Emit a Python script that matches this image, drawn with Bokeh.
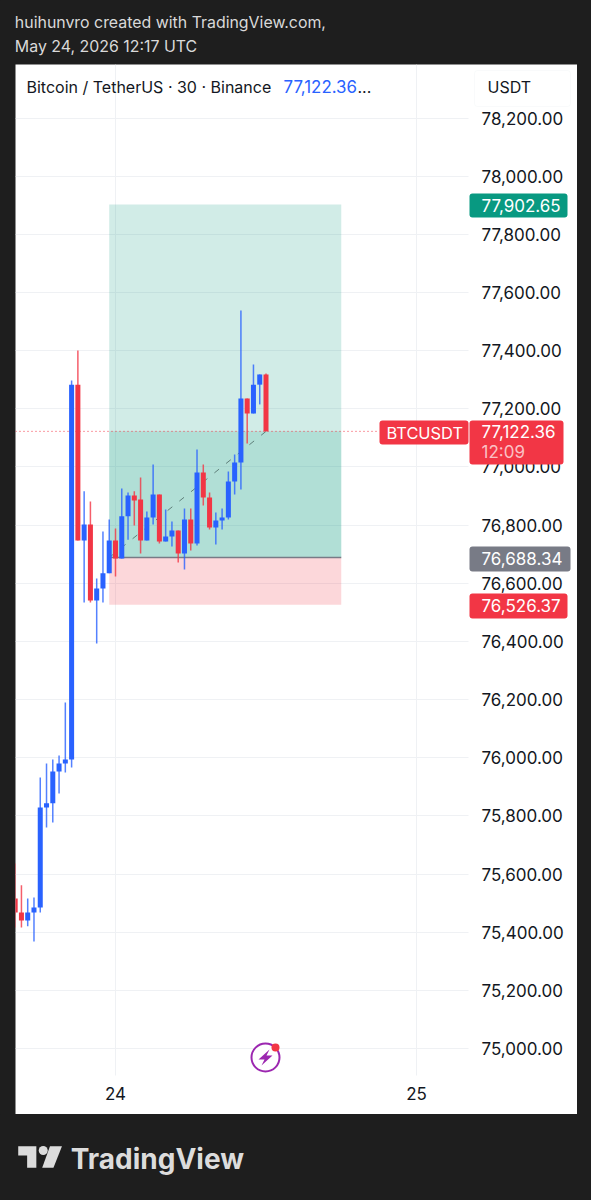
from bokeh.plotting import figure
from bokeh.layouts import column
from bokeh.models import (BoxAnnotation, Label, FixedTicker, NumeralTickFormatter, Range1d, LinearAxis)
from bokeh.core.properties import value
from bokeh.embed import file_html
from bokeh.resources import INLINE

# ---- data ----
bar_index = list(range(-16, 25))
opens = [75516,75468,75440,75468,75485,75829,75843,75953,75980,75994,77283,76747,76802,76541,76582,76634,
         76747,76685,76830,76902,76888,76747,76826,76905,76744,76761,76781,76702,76819,76737,76981,76895,
         76792,76816,76826,76950,77015,77235,77184,77283,77318]
highs = [75636,75561,75516,75519,75932,75980,75994,76008,76190,77297,77400,76916,76881,76616,76778,76819,
         76788,76926,76912,76916,76964,76847,77008,76905,76854,76812,76781,76857,76857,77060,77008,76912,
         76843,76857,76984,77043,77538,77235,77352,77318,77321]
lows = [75416,75416,75420,75368,75468,75760,75777,75877,75949,75966,76747,76534,76534,76393,76534,76634,
        76623,76685,76750,76799,76702,76747,76802,76737,76744,76726,76671,76647,76713,76730,76867,76785,
        76733,76785,76819,76905,76922,77081,77184,77215,77122.36]
closes = [75468,75440,75468,75485,75829,75843,75953,75980,75994,77283,76747,76802,76541,76582,76634,76747,
          76685,76830,76902,76885,76747,76826,76905,76744,76761,76781,76702,76819,76737,76981,76895,76792,
          76816,76826,76950,77015,77235,77184,77283,77318,77122.36]
y_ticks = [75000 + 200 * k for k in range(17)]
x_ticks = [24, 25]
last_price = 77122.36
target_price = 77902.65
entry_price = 76688.34
stop_price = 76526.37
countdown = "12:09"
symbol = "BTCUSDT"

BLUE, RED, TEAL, GRAY = "#2962ff", "#f23645", "#089981", "#787b86"
DARK, INK, GRID = "#1e1e1e", "#131722", "#eff1f4"
FONT = "Inter"

# ---- scales of the main panel (panel origin on page: 15, 64) ----
days_per_px = 1 / 301.0
price_per_px = 1 / 0.29078
def X(px):
    return 24 + (px - 115) * days_per_px
def Y(py):
    return 78200 - (py - 117.5) * price_per_px

p = figure(width=562, height=1050, output_backend="svg", toolbar_location=None,
           x_range=Range1d(X(15), X(577)), y_range=Range1d(Y(1114), Y(64)),
           x_axis_location=None, y_axis_location=None, min_border=0,
           background_fill_color="white", border_fill_color="white", outline_line_color=None,
           margin=(0, 14, 0, 15))

yax = LinearAxis(fixed_location=X(468), ticker=FixedTicker(ticks=y_ticks),
                 formatter=NumeralTickFormatter(format="0,0.00"), major_label_standoff=7)
xax = LinearAxis(fixed_location=Y(1075), ticker=FixedTicker(ticks=x_ticks), major_label_standoff=5)
p.add_layout(yax, "right")
p.add_layout(xax, "below")
for ax in (xax, yax):
    ax.axis_line_color = None
    ax.major_tick_line_color = None
    ax.minor_tick_line_color = None
    ax.major_label_text_font = FONT
    ax.major_label_text_font_size = "17px"
    ax.major_label_text_color = INK
p.xgrid.ticker = FixedTicker(ticks=x_ticks)
p.ygrid.ticker = FixedTicker(ticks=y_ticks)
p.xgrid.grid_line_color = GRID
p.ygrid.grid_line_color = GRID
p.xgrid.cross_bounds = (Y(1075), Y(64))
p.ygrid.cross_bounds = (X(15), X(468))

# ---- position tool ----
box_l = 24 - 1 / 48
box_r = 24 + 36 / 48
p.quad(left=box_l, right=box_r, bottom=entry_price, top=target_price, fill_color=TEAL, fill_alpha=0.19, line_color=None)
p.quad(left=box_l, right=box_r, bottom=entry_price, top=last_price, fill_color=TEAL, fill_alpha=0.155, line_color=None)
p.quad(left=box_l, right=box_r, bottom=stop_price, top=entry_price, fill_color=RED, fill_alpha=0.2, line_color=None)
p.line([box_l, box_r], [entry_price, entry_price], line_color=GRAY, line_width=1.5)
p.line([box_l, 24 + bar_index[-1] / 48], [entry_price, last_price], line_color="#5f7f7a", line_width=1, line_dash="6 9")

# ---- current price line ----
p.line([X(15), X(379)], [last_price, last_price], line_color=RED, line_width=1, line_dash="1 3")

# ---- candles ----
t = [24 + i / 48 for i in bar_index]
cols = [BLUE if c >= o else RED for o, c in zip(opens, closes)]
p.segment(x0=t, x1=t, y0=lows, y1=highs, line_color=cols, line_width=1.5, line_alpha=0.8)
p.vbar(x=t, width=0.8 / 48, bottom=[min(a, b) for a, b in zip(opens, closes)],
       top=[max(a, b) for a, b in zip(opens, closes)], fill_color=cols, line_color=None)

# ---- annotations ----
def box(l, r, t_, b, fill, line=None):
    p.add_layout(BoxAnnotation(left=X(l), right=X(r), top=Y(t_), bottom=Y(b), fill_color=fill, fill_alpha=1,
                               line_color=line, line_width=1, border_radius=3))
def text(x, y, s, color, size=17, align="left", alpha=1):
    p.add_layout(Label(x=X(x), y=Y(y), text=s, text_color=color, text_font=FONT, text_font_size=f"{size}px",
                       text_align=align, text_baseline="middle", text_alpha=alpha))
def fmt(v):
    return f"{v:,.2f}"

box(379, 468, 420, 444, RED)
text(386, 432, symbol, "white", 16.4)
box(469, 563, 420, 464, RED)
text(481, 431, fmt(last_price), "white")
text(481, 451, countdown, "white", 17, alpha=0.7)
box(469, 567, 193, 217, TEAL)
text(481, 205, fmt(target_price), "white")
box(469, 570, 546, 571, GRAY)
text(481, 558, fmt(entry_price), "white")
box(469, 567, 593, 618, RED)
text(481, 605, fmt(stop_price), "white")

# legend and scale button
text(26, 86, "Bitcoin / TetherUS · 30 · Binance", INK, 16)
text(283, 86, fmt(last_price), BLUE, 16.9)
text(357, 86, "...", INK, 16)
box(474, 570, 70, 106, "white", "#eceef2")
text(487, 86, "USDT", INK, 16)

# lightning icon
PURPLE = "#9c27b0"
p.scatter([X(265)], [Y(1057)], size=28, marker="circle", fill_color="white", line_color=PURPLE, line_width=2)
bx = [269, 258, 264, 261, 272, 266]
by = [1049, 1059, 1059, 1065, 1055, 1055]
p.patch([X(v) for v in bx], [Y(v) for v in by], fill_color=PURPLE, line_color=None)
p.scatter([X(275)], [Y(1047)], size=8, marker="circle", fill_color=RED, line_color=None)

# ---- header / footer strips, drawn in page pixels ----
def strip(h, top):
    f = figure(width=591, height=h, output_backend="svg", toolbar_location=None, x_axis_type=None, y_axis_type=None,
               x_range=Range1d(0, 577), y_range=Range1d(top + h, top), min_border=0,
               background_fill_color=DARK, border_fill_color=DARK, outline_line_color=None)
    f.grid.visible = False
    return f

head = strip(64, 0)
head.text([14, 14], [22, 46], text=["huihunvro created with TradingView.com,", "May 24, 2026 12:17 UTC"],
          text_color="#d9d9d9", text_font=value(FONT), text_font_size="15.9px", text_baseline="middle")

foot = strip(82, 1114)
LOGO = "#dcdcdc"
foot.patch([17.3, 35, 35, 26, 26, 17.3], [1145.7, 1145.7, 1167.3, 1167.3, 1155, 1155], fill_color=LOGO, line_color=None)
foot.patch([48.3, 60, 51.7, 40.7], [1145.7, 1145.7, 1167.3, 1167.3], fill_color=LOGO, line_color=None)
foot.scatter([41.7], [1150], size=9, marker="circle", fill_color=LOGO, line_color=None)
foot.text([68.5], [1158], text=["TradingView"], text_color=LOGO, text_font=value(FONT), text_font_size="28px",
          text_font_style="bold", text_baseline="middle")

page = column(head, p, foot, spacing=0)
html = file_html(page, INLINE).replace("<head>", "<head><style>html,body{background:#1e1e1e;margin:0}</style>", 1)
open("out.html", "w").write(html)
